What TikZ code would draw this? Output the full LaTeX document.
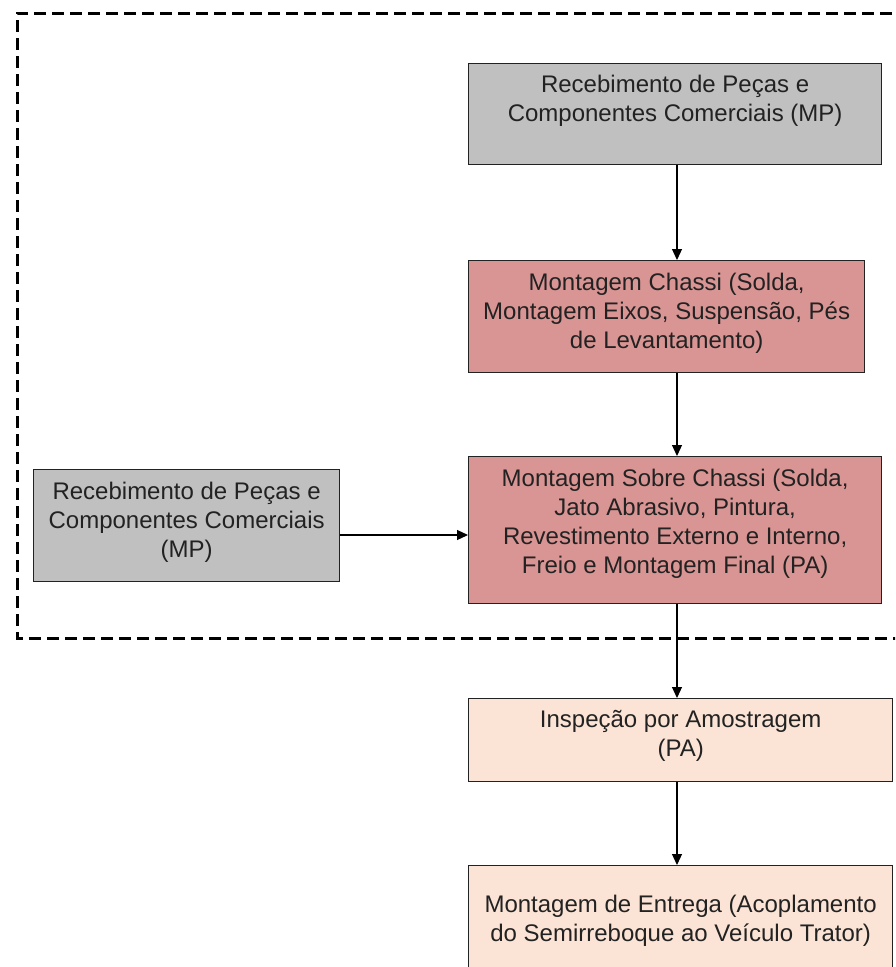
\documentclass[tikz,border=0pt]{standalone}
\usepackage{fontspec}
\setmainfont{Liberation Sans}
\usetikzlibrary{arrows.meta}
\definecolor{mpgray}{HTML}{C0C0C0}
\definecolor{assyred}{HTML}{D99594}
\definecolor{peach}{HTML}{FBE4D5}
\definecolor{ink}{HTML}{222222}
\begin{document}
\begin{tikzpicture}[x=1pt,y=-1pt,
  box/.style={draw=ink, line width=1.3pt, inner sep=0pt, anchor=north west},
  txt/.style={font=\fontsize{24}{29}\selectfont, text=ink, align=center, inner sep=0pt, anchor=north},
  flow/.style={line width=1.2pt, -{Triangle[length=11pt,width=10pt]}},
  plantframe/.style={line width=3pt, dash pattern=on 12pt off 6pt}]
\useasboundingbox (0,0) rectangle (895,967);
\clip (0,0) rectangle (895,967);

% boxes
\node[box, fill=mpgray,  minimum width=413pt, minimum height=101pt] (mp1)    at (468,63)  {};
\node[box, fill=assyred, minimum width=396pt, minimum height=112pt] (chassi) at (468,260) {};
\node[box, fill=mpgray,  minimum width=306pt, minimum height=112pt] (mp2)    at (33,469)  {};
\node[box, fill=assyred, minimum width=413pt, minimum height=147pt] (sobre)  at (468,456) {};
\node[box, fill=peach,   minimum width=424pt, minimum height=83pt]  (insp)   at (468,698) {};
\node[box, fill=peach,   minimum width=424pt, minimum height=130pt] (entr)   at (468,865) {};

% texts
\node[txt] (mp1t) at ([yshift=-12pt]mp1.north) {Recebimento de Peças e\\Componentes Comerciais (MP)};
\node[txt] (chassit) at ([yshift=-13pt]chassi.north) {Montagem Chassi (Solda,\\Montagem Eixos, Suspensão, Pés\\de Levantamento)};
\node[txt] (mp2t) at ([yshift=-13pt]mp2.north) {Recebimento de Peças e\\Componentes Comerciais\\(MP)};
\node[txt] (sobret) at ([yshift=-13pt]sobre.north) {Montagem Sobre Chassi (Solda,\\Jato Abrasivo, Pintura,\\Revestimento Externo e Interno,\\Freio e Montagem Final (PA)};
\node[txt] (inspt) at ([yshift=-12pt]insp.north) {Inspeção por Amostragem\\(PA)};
\node[txt] (entrt) at ([yshift=-30pt]entr.north) {Montagem de Entrega (Acoplamento\\do Semirreboque ao Veículo Trator)};

% plant boundary, open to the right
\draw[plantframe] (910,13) -| (17,638) -- (910,638);

% flow connectors
\coordinate (ax) at (677,0);
\coordinate (ay) at (0,535);
\draw[flow] (mp1.south -| ax) -- (chassi.north -| ax);
\draw[flow] (chassi.south -| ax) -- (sobre.north -| ax);
\draw[flow] (mp2.east |- ay) -- (sobre.west |- ay);
\draw[flow] (sobre.south -| ax) -- (insp.north -| ax);
\draw[flow] (insp.south -| ax) -- (entr.north -| ax);
\end{tikzpicture}
\end{document}
